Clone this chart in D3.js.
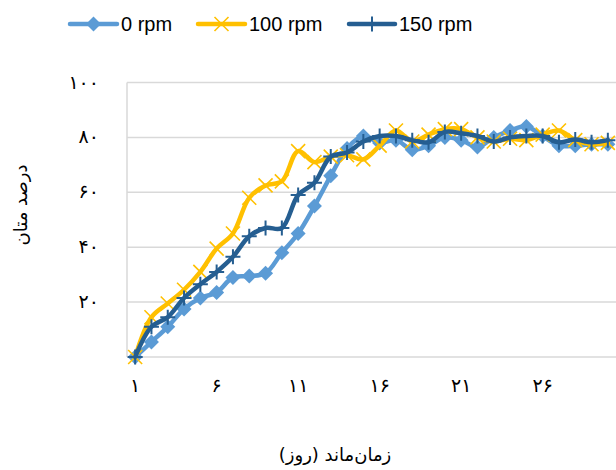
<!DOCTYPE html>
<html>
<head>
<meta charset="utf-8">
<script src="https://cdn.jsdelivr.net/npm/d3@7"></script>
<style>
  html, body { margin: 0; padding: 0; background: #fff; }
  svg { display: block; }
</style>
</head>
<body>
<svg id="chart" width="616" height="470"></svg>
<script>
// Retention time (days) and methane percentage for three mixing speeds
const days = d3.range(1, 31);
const rpm0   = [0, 5.5, 11, 17.5, 21.5, 23.5, 29, 29.5, 30.5, 38, 45, 55, 66, 76, 80.5, 78, 79, 75.5, 77, 80, 79, 76.5, 80, 82.5, 84, 80.5, 77, 77, 77.5, 77.5];
const rpm100 = [0, 14.5, 19.5, 24.5, 31, 39.5, 45, 58, 62.5, 64, 75, 71, 73, 73.5, 72, 77, 82.5, 78.5, 81, 83, 83, 80, 78.5, 79.5, 79, 81, 82.5, 79, 77.5, 78];
const rpm150 = [0, 11, 14.5, 21.5, 26.5, 31, 36.5, 44, 47, 47, 59, 63.5, 73, 74.5, 78.5, 80.5, 80.5, 79, 78.2, 82, 81.5, 80.5, 78.5, 80, 80.5, 80.5, 78.2, 79.2, 78.2, 79];
const seriesNames = ["0 rpm", "100 rpm", "150 rpm"];
const yTicks = [20, 40, 60, 80, 100];
const xTickDays = [1, 6, 11, 16, 21, 26];

const fa = n => String(n).replace(/\d/g, d => "۰۱۲۳۴۵۶۷۸۹"[d]);
const arabicFont = "DejaVu Sans, sans-serif";

const svg = d3.select("#chart");
const plotL = 127, plotR = 616, plotT = 82.5, plotB = 357;

const x = d3.scaleBand().domain(days).range([plotL, plotR]);
const cx = d => x(d) + x.bandwidth() / 2;
const y = d3.scaleLinear().domain([0, 100]).range([plotB, plotT]);

// gridlines
svg.append("g").selectAll("line").data(yTicks).join("line")
  .attr("x1", plotL).attr("x2", plotR)
  .attr("y1", d => y(d)).attr("y2", d => y(d))
  .attr("stroke", "#d9d9d9").attr("stroke-width", 1.5);

// axis lines
svg.append("line").attr("x1", plotL).attr("x2", plotR).attr("y1", y(0)).attr("y2", y(0))
  .attr("stroke", "#d9d9d9").attr("stroke-width", 1.5);
svg.append("line").attr("x1", plotL).attr("x2", plotL).attr("y1", y(0)).attr("y2", y(100))
  .attr("stroke", "#d9d9d9").attr("stroke-width", 1.5);

// y tick labels
svg.append("g").selectAll("text").data(yTicks).join("text")
  .attr("x", 99).attr("y", d => y(d) + 6)
  .attr("text-anchor", "end")
  .attr("font-family", arabicFont).attr("font-size", 19).attr("fill", "#000")
  .text(d => fa(d));

// x tick labels
svg.append("g").selectAll("text").data(xTickDays).join("text")
  .attr("x", d => cx(d)).attr("y", 392)
  .attr("text-anchor", "middle")
  .attr("font-family", arabicFont).attr("font-size", 19).attr("fill", "#000")
  .text(d => fa(d));

// axis titles
svg.append("text")
  .attr("transform", "translate(27,205) rotate(-90)")
  .attr("text-anchor", "middle").attr("direction", "rtl")
  .attr("font-family", arabicFont).attr("font-size", 18).attr("fill", "#000")
  .text("درصد متان");
svg.append("text")
  .attr("x", 335).attr("y", 461)
  .attr("text-anchor", "middle").attr("direction", "rtl")
  .attr("font-family", arabicFont).attr("font-size", 18).attr("fill", "#000")
  .text("زمان‌ماند (روز)");

// marker painters
function diamond(g, px, py, color) {
  const r = 7.5;
  g.append("path").attr("d", `M${px},${py - r}L${px + r},${py}L${px},${py + r}L${px - r},${py}Z`)
    .attr("fill", color);
}
function cross(g, px, py, color) {
  const r = 7;
  g.append("path").attr("d", `M${px - r},${py - r}L${px + r},${py + r}M${px - r},${py + r}L${px + r},${py - r}`)
    .attr("stroke", color).attr("stroke-width", 1.6).attr("fill", "none");
}
function plus(g, px, py, color) {
  const r = 7.5;
  g.append("path").attr("d", `M${px - r},${py}L${px + r},${py}M${px},${py - r}L${px},${py + r}`)
    .attr("stroke", color).attr("stroke-width", 2).attr("fill", "none");
}

const series = [
  { name: seriesNames[0], values: rpm0,   color: "#5b9bd5", marker: diamond },
  { name: seriesNames[1], values: rpm100, color: "#ffc000", marker: cross },
  { name: seriesNames[2], values: rpm150, color: "#255e91", marker: plus }
];

const line = d3.line()
  .x((v, i) => cx(days[i]))
  .y(v => y(v))
  .curve(d3.curveCatmullRom.alpha(0.5));

series.forEach(s => {
  const g = svg.append("g");
  g.append("path").datum(s.values).attr("d", line)
    .attr("fill", "none").attr("stroke", s.color).attr("stroke-width", 4.5)
    .attr("stroke-linejoin", "round").attr("stroke-linecap", "round");
  s.values.forEach((v, i) => s.marker(g, cx(days[i]), y(v), s.color));
});

// legend
const legendItems = [
  { x: 70, w: 47, tx: 121 },
  { x: 198, w: 47, tx: 249 },
  { x: 349, w: 46, tx: 399 }
];
series.forEach((s, i) => {
  const L = legendItems[i];
  const g = svg.append("g");
  g.append("line").attr("x1", L.x).attr("x2", L.x + L.w).attr("y1", 24).attr("y2", 24)
    .attr("stroke", s.color).attr("stroke-width", 4.5).attr("stroke-linecap", "round");
  s.marker(g, L.x + L.w / 2, 24, s.color);
  g.append("text").attr("x", L.tx).attr("y", 31)
    .attr("font-family", "Liberation Sans, Arial, sans-serif").attr("font-size", 20).attr("fill", "#000")
    .text(s.name);
});
</script>
</body>
</html>
